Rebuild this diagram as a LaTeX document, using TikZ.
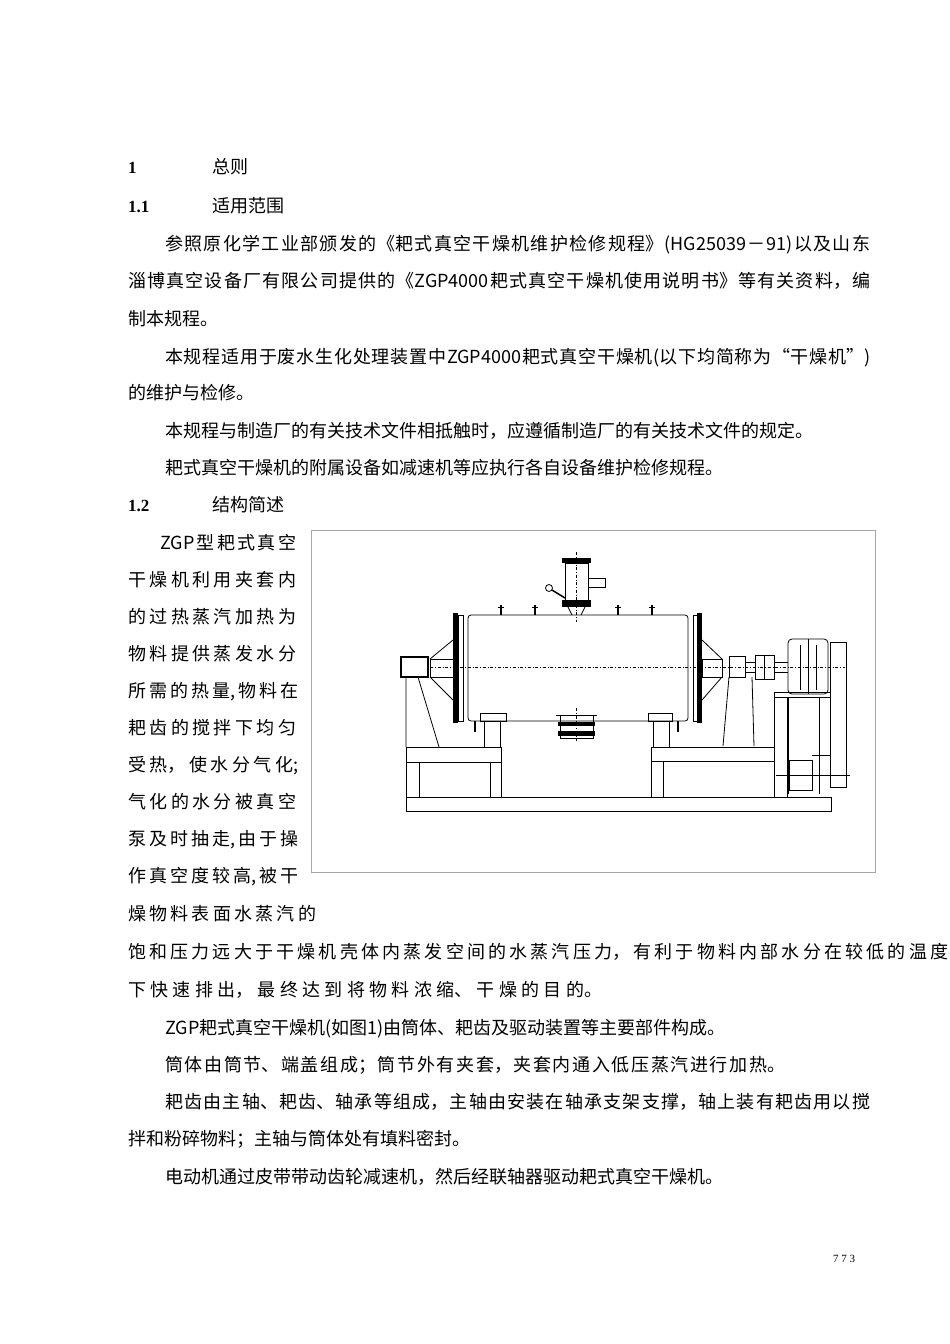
\documentclass[tikz,border=0pt]{standalone}
\usepackage{fontspec}
\setmainfont{Liberation Serif}
\newfontfamily\cjk{Noto Sans CJK SC}
\newcommand\jl[2]{\parbox[b]{#1}{\XeTeXlinebreaklocale "zh"\XeTeXlinebreakskip=0pt plus 6pt\parfillskip=0pt\noindent #2}}
\begin{document}
\begin{tikzpicture}[x=1pt,y=-1pt,
  txt/.style={anchor=base west,inner sep=0pt,font=\cjk\fontsize{18}{20}\selectfont},
  hd/.style={anchor=base west,inner sep=0pt,font=\bfseries\fontsize{17}{20}\selectfont},
  ln/.style={line width=0.8pt},
  thin/.style={line width=0.5pt}]
\useasboundingbox (0,0) rectangle (950,1344);
% headings
\node[hd] (h1) at (128,173) {1};
\node[txt] (h1t) at (212,173) {总则};
\node[hd] (h11) at (128,212) {1.1};
\node[txt] (h11t) at (212,212) {适用范围};
\node[txt] (p1) at (165,250) {\jl{705pt}{参照原化学工业部颁发的《耙式真空干燥机维护检修规程》(HG25039－91)以及山东}};
\node[txt] (p2) at (128,287) {\jl{742pt}{淄博真空设备厂有限公司提供的《ZGP4000耙式真空干燥机使用说明书》等有关资料，编}};
\node[txt] (p3) at (128,325) {制本规程。};
\node[txt] (p4) at (165,363) {\jl{705pt}{本规程适用于废水生化处理装置中ZGP4000耙式真空干燥机(以下均简称为“干燥机”)}};
\node[txt] (p5) at (128,399) {的维护与检修。};
\node[txt] (p6) at (165,437) {本规程与制造厂的有关技术文件相抵触时，应遵循制造厂的有关技术文件的规定。};
\node[txt] (p7) at (165,474) {耙式真空干燥机的附属设备如减速机等应执行各自设备维护检修规程。};
\node[hd] (h12) at (128,511) {1.2};
\node[txt] (h12t) at (212,511) {结构简述};
% left column
\node[txt] (c1) at (160,549) {\jl{136pt}{ZGP型耙式真空}};
\node[txt] (c2) at (128,586) {\jl{168pt}{干燥机利用夹套内}};
\node[txt] (c3) at (128,623) {\jl{168pt}{的过热蒸汽加热为}};
\node[txt] (c4) at (128,660) {\jl{168pt}{物料提供蒸发水分}};
\node[txt] (c5) at (128,697) {\jl{170pt}{所需的热量,物料在}};
\node[txt] (c6) at (128,734) {\jl{168pt}{耙齿的搅拌下均匀}};
\node[txt] (c7) at (128,771) {\jl{170pt}{受热，使水分气化;}};
\node[txt] (c8) at (128,808) {\jl{168pt}{气化的水分被真空}};
\node[txt] (c9) at (128,845) {\jl{170pt}{泵及时抽走,由于操}};
\node[txt] (c10) at (128,882) {\jl{170pt}{作真空度较高,被干}};
\node[txt] (c11) at (128,920) {\jl{188pt}{燥物料表面水蒸汽的}};
\node[txt] (q1) at (128,958) {\jl{820pt}{饱和压力远大于干燥机壳体内蒸发空间的水蒸汽压力，有利于物料内部水分在较低的温度}};
\node[txt] (q2) at (128,996) {\jl{474pt}{下快速排出，最终达到将物料浓缩、干燥的目的。}};
\node[txt] (q3) at (165,1034) {ZGP耙式真空干燥机(如图1)由筒体、耙齿及驱动装置等主要部件构成。};
\node[txt] (q4) at (165,1071) {\jl{620pt}{筒体由筒节、端盖组成；筒节外有夹套，夹套内通入低压蒸汽进行加热。}};
\node[txt] (q5) at (165,1108) {\jl{705pt}{耙齿由主轴、耙齿、轴承等组成，主轴由安装在轴承支架支撑，轴上装有耙齿用以搅}};
\node[txt] (q6) at (128,1145) {拌和粉碎物料；主轴与筒体处有填料密封。};
\node[txt] (q7) at (165,1183) {电动机通过皮带带动齿轮减速机，然后经联轴器驱动耙式真空干燥机。};
\node[anchor=base west,inner sep=0pt,font=\fontsize{11}{12}\selectfont] (pg) at (833,1262) {7 7 3};
% figure frame
\draw[line width=0.6pt,gray!70] (311,530) rectangle (875,872);
% machine
\begin{scope}[ln]
\draw[rounded corners=3pt] (468,615) rectangle (688,721);
\draw (463,617)--(463,719) (693,617)--(693,719);
\fill (453,613) rectangle (458,723);
\fill (697,613) rectangle (702,723);
\draw (458,615) rectangle (463,721) (693,615) rectangle (697,721);
\draw (453,640)--(430,659) (453,700)--(430,677) (702,640)--(722,659) (702,700)--(722,677);
\draw (430,659) rectangle (453,677);
\draw (702,659) rectangle (722,677);
\draw[line width=1.2pt] (401,657) rectangle (428,677);
\draw (729,656) rectangle (745,677);
\draw (745,662)--(755,662) (745,672)--(755,672);
\draw (755,655) rectangle (774,679) (764,655)--(764,679);
\draw (774,662)--(788,662) (774,672)--(788,672);
\draw[rounded corners=4pt] (788,639) rectangle (828,694);
\draw (808,639)--(808,694) (800,645)--(800,690) (816,645)--(816,690);
\draw (830,642) rectangle (846,787);
\draw (774,692) rectangle (830,697);
\draw (774,697)--(774,797) (787,697)--(787,797);
\draw (788,697)--(788,794) (819,697)--(819,794);
\draw (789,760) rectangle (812,790) (812,755)--(830,755);
\draw[thin] (776,775)--(850,775);
\draw[thin,dash dot] (430,667)--(845,667);
\draw (406,677)--(406,747) (418,677)--(439,747);
\draw (729,677)--(723,746) (752,677)--(754,746);
\draw (565,563) rectangle (588,600);
\fill (562,558) rectangle (591,563);
\fill (562,600) rectangle (591,607);
\draw (568,607)--(572,615) (585,607)--(581,615);
\draw (588,578) rectangle (605,587);
\draw (549,588) circle (3.5);
\draw[line width=1.5pt] (552,590)--(565,598);
\draw[thin,dash dot] (576,552)--(576,622);
\foreach \x in {501,535,618,652}{\draw[line width=1.2pt] (\x,605)--(\x,615); \draw (\x-3,607)--(\x+3,607);}
\foreach \x in {475,678}{\draw[line width=1.2pt] (\x,721)--(\x,732);}
\draw (480,713) rectangle (506,721) (648,713) rectangle (672,721);
\draw (484,721)--(484,747) (500,721)--(500,747) (653,721)--(653,747) (669,721)--(669,747);
\draw (556,715)--(597,715);
\fill (558,722) rectangle (595,726);
\fill (558,731) rectangle (595,736);
\draw (560,715) rectangle (593,738);
\draw[thin,dash dot] (576,708)--(576,742);
\draw (406,747) rectangle (501,762) (406,762) rectangle (501,797);
\draw (490,762)--(490,797) (419,762)--(419,797);
\draw (501,747)--(501,797);
\draw (651,747) rectangle (774,761) (651,761) rectangle (774,797) (663,761)--(663,797);
\draw (406,797) rectangle (831,811);
\end{scope}
\end{tikzpicture}
\end{document}
